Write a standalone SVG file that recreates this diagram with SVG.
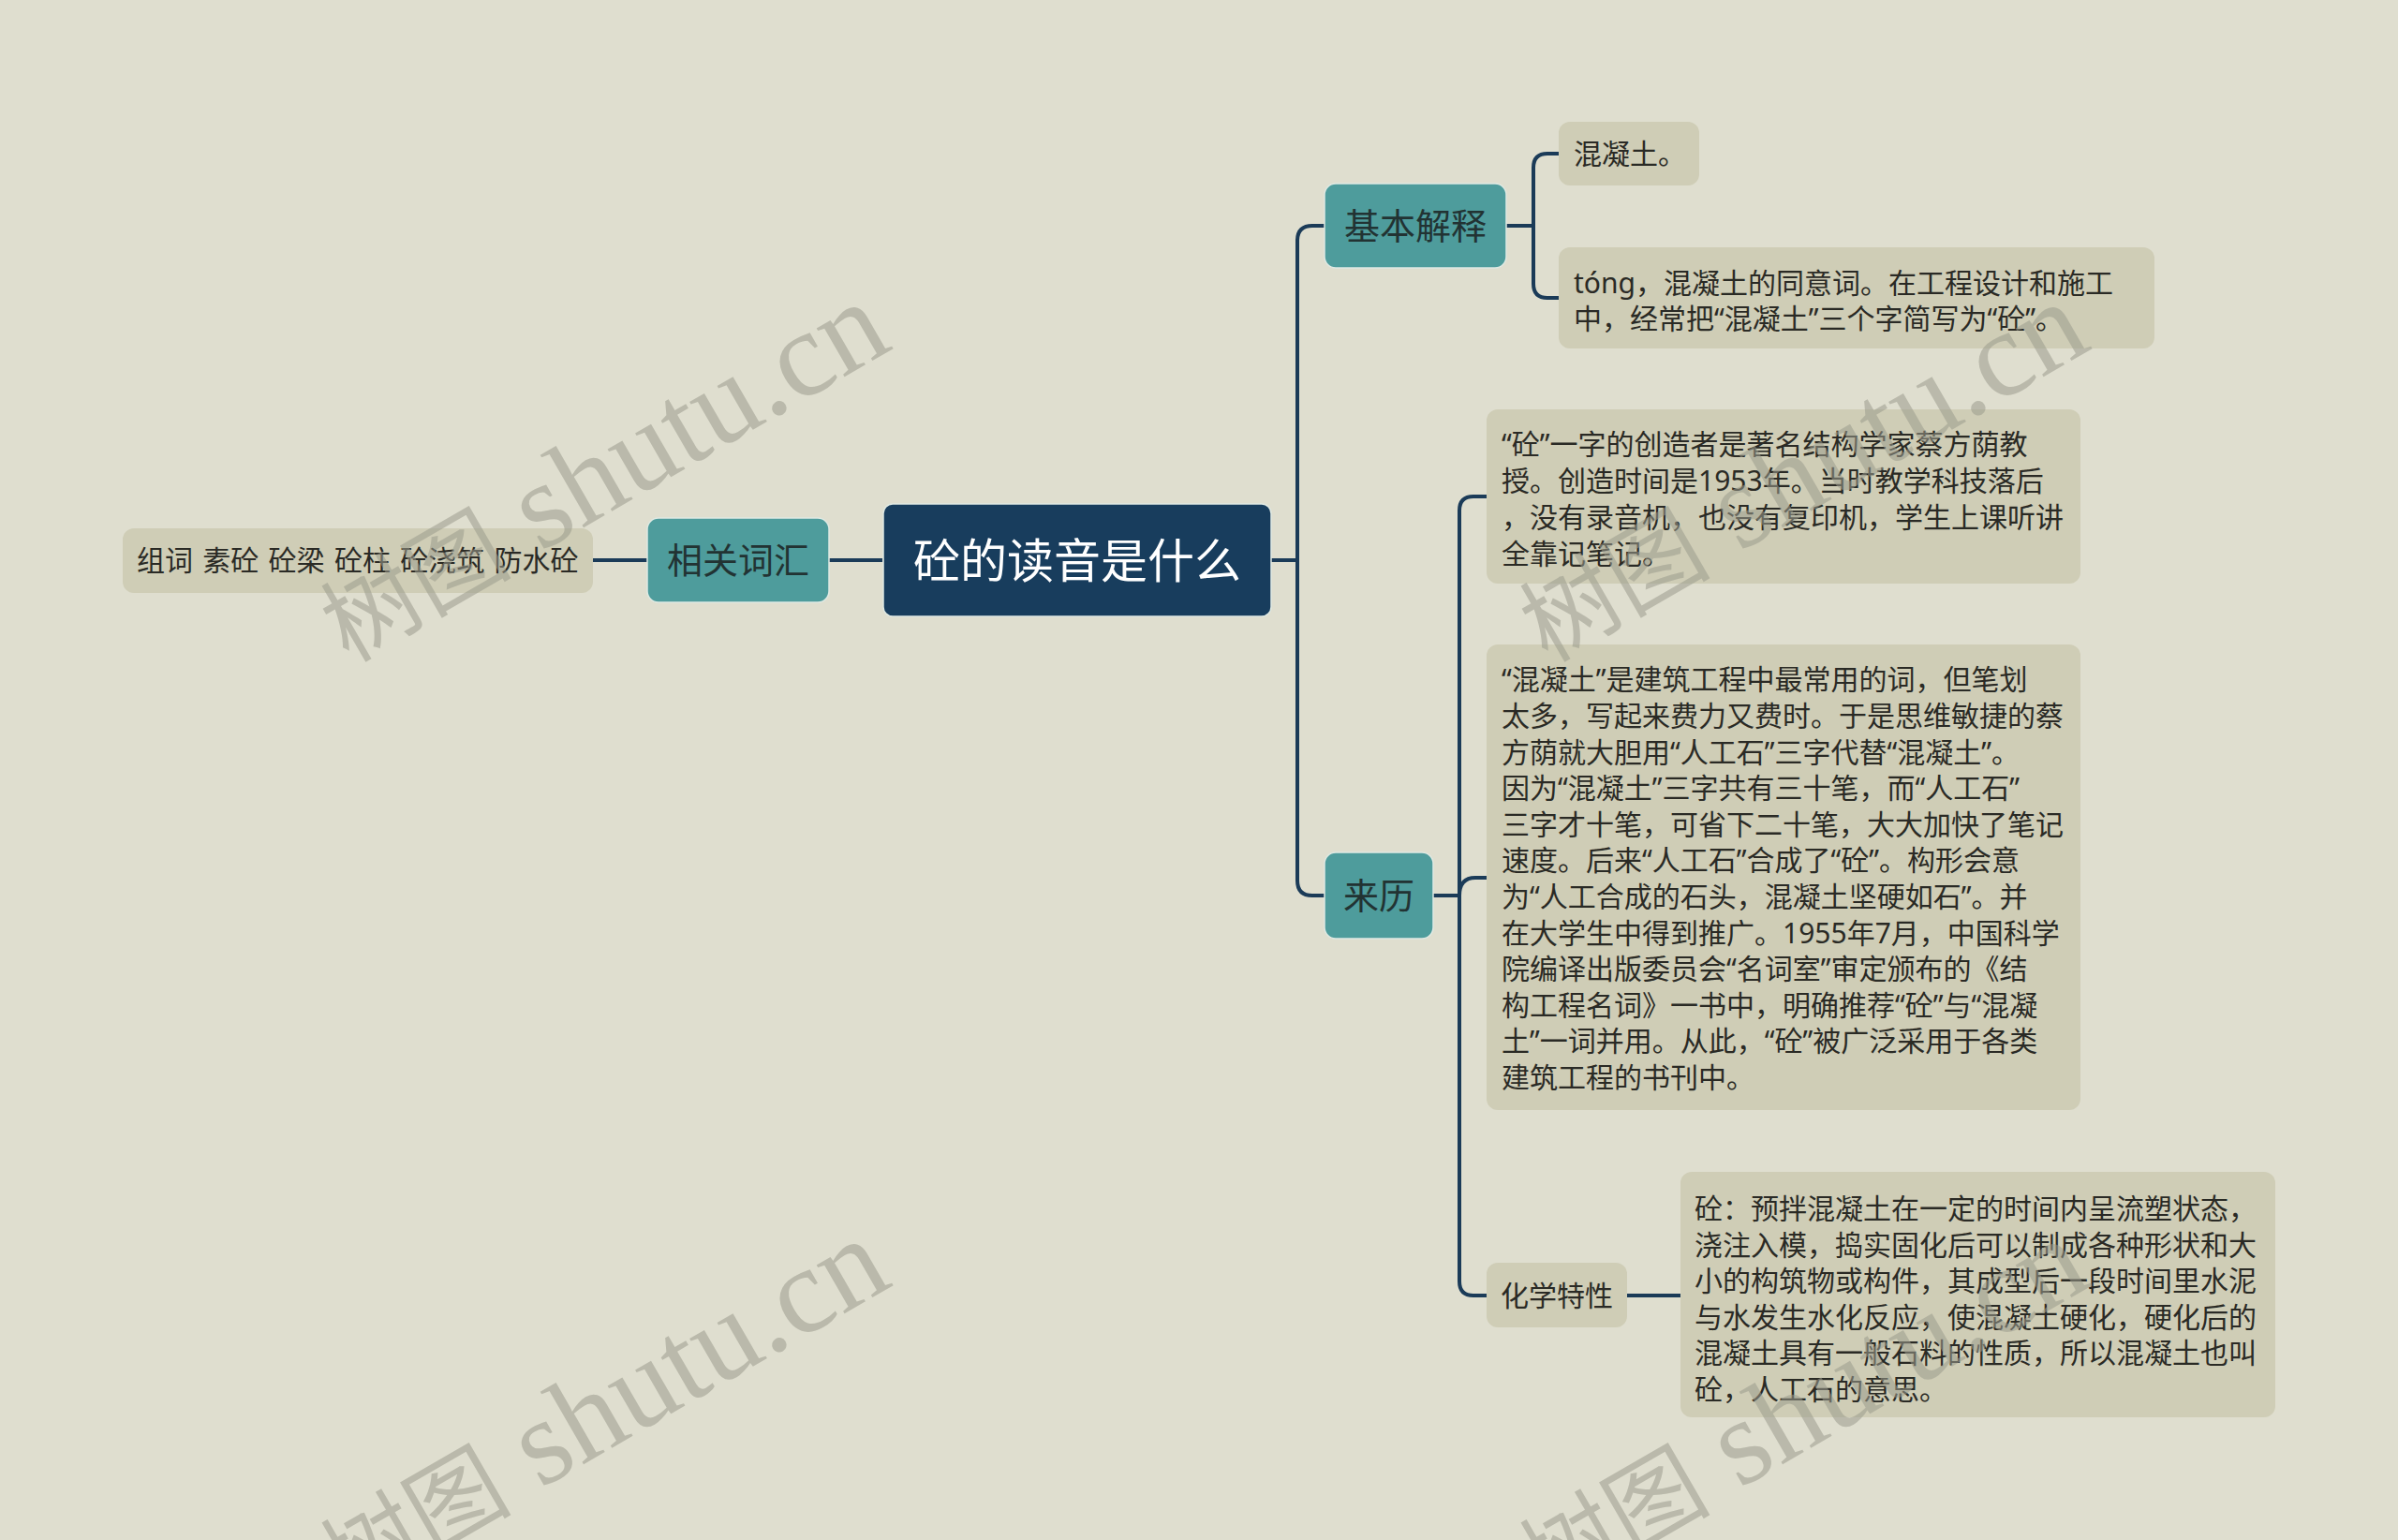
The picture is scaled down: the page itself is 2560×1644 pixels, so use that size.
<svg xmlns="http://www.w3.org/2000/svg" width="2560" height="1644" viewBox="0 0 2560 1644">
<defs>
<style>
.bg{fill:#dfdecf}
.leaf{fill:#cfcdb6}
.teal{fill:#4e9c9c;stroke:#dfe9e3;stroke-width:1.5}
.root{fill:#183d5d;stroke:#dfe9e3;stroke-width:1.5}
.t{font-family:"Noto Sans","Noto Sans CJK SC",sans-serif;fill:#2a2a25}
.lt{font-size:30px}
.tl{font-size:38px;fill:#223333;text-anchor:middle}
.rt{font-size:50px;fill:#ffffff;text-anchor:middle}
.conn path{fill:none;stroke:#1b3b58;stroke-width:4;stroke-linecap:butt}
.wm{font-family:"Liberation Serif","Noto Sans CJK SC",serif;fill:#9c9c8e;opacity:0.55}
.wc{font-size:102px}
.wl{font-size:130px}
</style>
</defs>
<rect class="bg" x="0" y="0" width="2560" height="1644"/>

<g id="connectors" class="conn">
<path d="M942,598 H885"/>
<path d="M691,598 H633"/>
<path d="M1357,598 H1385"/>
<path d="M1414,241 H1401 Q1385,241 1385,257 V940 Q1385,956 1401,956 H1414"/>
<path d="M1608,241 H1637"/>
<path d="M1664,164 H1652 Q1637,164 1637,179 V303 Q1637,318 1652,318 H1664"/>
<path d="M1530,956 H1558"/>
<path d="M1587,530 H1573 Q1558,530 1558,545 V1368 Q1558,1383 1573,1383 H1587"/>
<path d="M1558,956 Q1558,937 1575,937 H1587"/>
<path d="M1737,1383 H1794"/>
</g>

<g id="root">
<rect class="root" x="943" y="538" width="414" height="120" rx="10"/>
<text class="t rt" x="1150" y="617">砼的读音是什么</text>
</g>

<g id="n-xiangguan">
<rect class="teal" x="691" y="553" width="194" height="90" rx="12"/>
<text class="t tl" x="788" y="612">相关词汇</text>
</g>

<g id="n-zuci">
<rect class="leaf" x="131" y="564" width="502" height="69" rx="12"/>
<text class="t lt" style="word-spacing:2.5px" x="146" y="609">组词 素砼 砼梁 砼柱 砼浇筑 防水砼</text>
</g>

<g id="n-jiben">
<rect class="teal" x="1414" y="196" width="194" height="90" rx="12"/>
<text class="t tl" x="1511" y="255">基本解释</text>
</g>

<g id="n-hunningtu">
<rect class="leaf" x="1664" y="130" width="150" height="68" rx="12"/>
<text class="t lt" x="1680" y="175">混凝土。</text>
</g>

<g id="n-tong">
<rect class="leaf" x="1664" y="264" width="636" height="108" rx="12"/>
<text class="t lt" x="1680" y="313">tóng，混凝土的同意词。在工程设计和施工</text>
<text class="t lt" x="1680" y="351">中，经常把“混凝土”三个字简写为“砼”。</text>
</g>

<g id="n-laili">
<rect class="teal" x="1414" y="910" width="116" height="92" rx="12"/>
<text class="t tl" x="1472" y="970">来历</text>
</g>

<g id="n-chuangzao">
<rect class="leaf" x="1587" y="437" width="634" height="186" rx="12"/>
<text class="t lt" x="1603" y="485">“砼”一字的创造者是著名结构学家蔡方荫教</text>
<text class="t lt" x="1603" y="524">授。创造时间是1953年。当时教学科技落后</text>
<text class="t lt" x="1603" y="563">，没有录音机，也没有复印机，学生上课听讲</text>
<text class="t lt" x="1603" y="602">全靠记笔记。</text>
</g>

<g id="n-history">
<rect class="leaf" x="1587" y="688" width="634" height="497" rx="12"/>
<text class="t lt" x="1603" y="736.4">“混凝土”是建筑工程中最常用的词，但笔划</text>
<text class="t lt" x="1603" y="775">太多，写起来费力又费时。于是思维敏捷的蔡</text>
<text class="t lt" x="1603" y="813.6">方荫就大胆用“人工石”三字代替“混凝土”。</text>
<text class="t lt" x="1603" y="852.2">因为“混凝土”三字共有三十笔，而“人工石”</text>
<text class="t lt" x="1603" y="890.8">三字才十笔，可省下二十笔，大大加快了笔记</text>
<text class="t lt" x="1603" y="929.4">速度。后来“人工石”合成了“砼”。构形会意</text>
<text class="t lt" x="1603" y="968">为“人工合成的石头，混凝土坚硬如石”。并</text>
<text class="t lt" x="1603" y="1006.6">在大学生中得到推广。1955年7月，中国科学</text>
<text class="t lt" x="1603" y="1045.2">院编译出版委员会“名词室”审定颁布的《结</text>
<text class="t lt" x="1603" y="1083.8">构工程名词》一书中，明确推荐“砼”与“混凝</text>
<text class="t lt" x="1603" y="1122.4">土”一词并用。从此，“砼”被广泛采用于各类</text>
<text class="t lt" x="1603" y="1161">建筑工程的书刊中。</text>
</g>

<g id="n-huaxue">
<rect class="leaf" x="1587" y="1348" width="150" height="69" rx="12"/>
<text class="t lt" x="1602" y="1394">化学特性</text>
</g>

<g id="n-huaxue-detail">
<rect class="leaf" x="1794" y="1251" width="635" height="262" rx="12"/>
<text class="t lt" x="1809" y="1301">砼：预拌混凝土在一定的时间内呈流塑状态，</text>
<text class="t lt" x="1809" y="1339.5">浇注入模，捣实固化后可以制成各种形状和大</text>
<text class="t lt" x="1809" y="1378">小的构筑物或构件，其成型后一段时间里水泥</text>
<text class="t lt" x="1809" y="1416.5">与水发生水化反应，使混凝土硬化，硬化后的</text>
<text class="t lt" x="1809" y="1455">混凝土具有一般石料的性质，所以混凝土也叫</text>
<text class="t lt" x="1809" y="1493.5">砼，人工石的意思。</text>
</g>

<g id="watermarks">
<text class="wm" transform="translate(372,708) rotate(-30)"><tspan class="wc">树图</tspan><tspan class="wl"> shutu.cn</tspan></text>
<text class="wm" transform="translate(1652,708) rotate(-30)"><tspan class="wc">树图</tspan><tspan class="wl"> shutu.cn</tspan></text>
<text class="wm" transform="translate(372,1708) rotate(-30)"><tspan class="wc">树图</tspan><tspan class="wl"> shutu.cn</tspan></text>
<text class="wm" transform="translate(1652,1708) rotate(-30)"><tspan class="wc">树图</tspan><tspan class="wl"> shutu.cn</tspan></text>
</g>
</svg>
